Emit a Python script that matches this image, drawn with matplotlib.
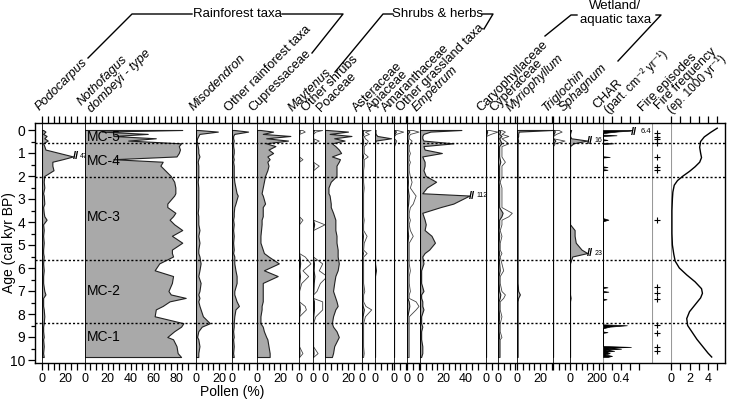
import numpy as np
import matplotlib
matplotlib.use('Agg')
import matplotlib.pyplot as plt

plt.rcParams['font.family'] = ['Liberation Sans', 'DejaVu Sans']

######################################## 数据
# 花粉样品年龄 (cal kyr BP)
ages = [0.00, 0.07, 0.17, 0.26, 0.36, 0.46, 0.58, 0.70, 0.85, 1.00,
        1.15, 1.27, 1.38, 1.55, 1.75, 2.00, 2.25, 2.50, 2.75, 2.85,
        3.20, 3.35, 3.60, 3.75, 3.90, 4.10, 4.35, 4.60, 4.90, 5.20,
        5.35, 5.50, 5.80, 6.10, 6.35, 6.65, 7.00, 7.15, 7.30, 7.45,
        7.65, 7.80, 8.10, 8.40, 8.55, 8.75, 9.00, 9.10, 9.40, 9.70,
        9.87]

podocarpus = [1, 3, 1, 4, 2, 5, 1, 2, 3, 15,
              47, 18, 9, 9, 10, 2, 1.5, 2, 1, 1.5,
              2, 1, 1.5, 2, 4, 1, 1.5, 1, 1.5, 1,
              1, 1.5, 1, 1.5, 1, 1, 2, 3, 1, 1,
              1, 1.5, 2, 1.5, 1, 1, 1.5, 1, 1.5, 1,
              1.5]
nothofagus = [85, 15, 55, 25, 62, 38, 84, 82, 83, 82,
              80, 25, 68, 66, 70, 75, 78, 79, 79, 78,
              72, 72, 79, 77, 74, 78, 85, 76, 85, 76,
              76, 77, 65, 61, 77, 76, 73, 75, 88, 74,
              68, 62, 61, 86, 84, 78, 72, 77, 80, 81,
              84]
misodendron = [2, 19, 3, 2, 1, 0.5, 1, 1.5, 2, 2,
               3, 2, 1.5, 2, 2, 2, 1.5, 2, 2, 2,
               2, 2, 1.5, 2, 2, 2, 3, 2, 3, 2,
               2, 3, 4, 3, 2, 4, 3, 2, 3, 2,
               3, 4, 6, 12, 5, 2, 1, 2, 3, 2,
               2]
other_rainforest = [2, 14, 2, 1, 1, 1.5, 1, 1, 1.5, 1.5,
                    1, 1.5, 1, 1.5, 1.5, 1.5, 2, 3, 4, 5,
                    3, 2, 1.5, 1.5, 1, 1.5, 1, 1.5, 1, 1.5,
                    1, 2, 2, 3, 4, 4, 2, 2, 3, 4,
                    6, 3, 2, 1.5, 1.5, 1, 1.5, 1, 1.5, 1,
                    1.5]
cupressaceae = [3, 14, 5, 29, 8, 27, 8, 16, 10, 14,
                9, 11, 9, 10, 9, 7, 6, 5, 4, 5,
                7, 5, 5, 5, 4, 4, 3.5, 3, 3, 5,
                6, 10, 19, 6, 18, 5, 5, 5, 5, 5,
                4, 4, 3, 3, 5, 6, 8, 9, 10, 11,
                11]
maytenus = [0.3, 0.5, 0, 0, 0, 0, 0, 0, 0, 0,
            0, 0.3, 0, 0, 0, 0, 0, 0, 0, 0,
            0, 0, 0, 0, 0.3, 0, 0, 0, 0, 0,
            0, 0.5, 1.0, 0.3, 0.8, 0.2, 0, 0, 0, 0,
            0.5, 0.6, 0, 0, 0, 0, 0, 0, 0, 0.3,
            0]
other_shrubs = [0.8, 0.2, 0, 0, 0, 0.5, 0, 0, 0, 0,
                0, 0, 0, 0.5, 0, 0, 0, 0, 0, 0,
                0, 0, 0, 0, 0, 1.0, 0, 0, 0, 0,
                0, 0, 0.8, 0.5, 1.2, 0.6, 0.3, 0, 0, 0.8,
                0.8, 0.8, 0.2, 0, 0, 0, 0, 0, 0, 0.4,
                0]
poaceae = [2, 20, 4, 23, 8, 17, 6, 9, 12, 14,
           6, 13, 12, 10, 10, 10, 5, 3, 3, 4,
           5, 5, 7, 8, 9, 9, 9, 10, 10, 11,
           11, 11, 12, 11, 9, 8, 7, 8, 9, 10,
           11, 9, 7, 6, 7, 10, 12, 11, 8, 7,
           6]
asteraceae = [1.5, 0.5, 1.2, 0.3, 0.5, 1, 0.8, 0.3, 0.3, 0.3,
              1, 0.3, 0.3, 0.3, 0.2, 0.2, 0.2, 0.3, 0.2, 0.2,
              0.2, 0.2, 0.2, 0.2, 0.3, 0.2, 0.2, 0.8, 0.3, 0.2,
              0.8, 0.2, 0.2, 0.2, 0.2, 0.2, 0.4, 0.2, 0.2, 0.2,
              0.6, 1.6, 0.5, 0.2, 0.2, 0.2, 0.2, 0.2, 0.2, 0.3,
              0.2]
apiaceae = [0.5, 0.3, 0.5, 2, 14, 0.5, 0, 0, 0, 0,
            0, 0, 0, 0, 0, 0, 0, 0, 0, 0,
            0, 0, 0, 0, 0, 0, 0, 0, 0, 0,
            0, 0, 0, 0.8, 0, 0, 0, 0, 0, 0,
            0, 0, 0, 0, 0, 0, 0, 0, 0, 0,
            0]
amaranthaceae = [0.5, 1.6, 0.3, 0, 0, 0.4, 0.2, 0, 0, 0,
                 0, 0, 0, 0, 0, 0, 0, 0, 0, 0,
                 0, 0, 0, 0, 0, 0, 0, 0, 0, 0,
                 0, 0, 0, 0, 0, 0, 0, 0, 0, 0,
                 0, 0, 0, 0, 0, 0, 0, 0, 0, 0,
                 0]
other_grassland = [1, 2, 0.5, 0.3, 0.3, 0.8, 0.5, 0.3, 0.3, 0.5,
                   0.3, 0.3, 0.5, 0.3, 0.3, 0.5, 0.8, 0.5, 1.2, 1.5,
                   1, 0.5, 0.3, 0.3, 0.5, 0.3, 0.5, 1.0, 0.3, 0.3,
                   0.3, 0.3, 0.3, 0.5, 0.3, 0.3, 0.5, 0.3, 0.3, 1.5,
                   2, 1.5, 0.3, 0.3, 0.3, 0.3, 0.3, 0.3, 0.3, 0.3,
                   0.3]
empetrum = [36, 9, 3, 2, 2, 3, 29, 3, 4, 19,
            2, 3, 4, 4, 3, 5, 14, 6, 2, 112,
            29, 18, 2, 3, 4, 5, 4, 10, 13, 8,
            4, 2, 3, 1, 1, 1, 3, 1, 1, 2,
            2, 3, 1, 1, 2, 1, 1, 1, 2, 2,
            1]
caryophyllaceae = [0.3, 1.0, 0.4, 0, 0, 0, 0, 0, 0, 0,
                   0, 0, 0, 0, 0, 0, 0, 0, 0, 0,
                   0, 0, 0, 0, 0, 0, 0, 0, 0, 0,
                   0, 0, 0, 0, 0, 0, 0, 0, 0, 0,
                   0, 0, 0, 0, 0, 0, 0, 0, 0, 0,
                   0]
cyperaceae = [1, 2, 1, 3, 1, 2, 3, 1, 1, 1,
              1, 1.5, 2, 1, 1, 1, 0.5, 1, 1, 1,
              1, 1, 4, 3, 1, 1, 0.5, 1, 0.5, 0.5,
              1, 0.5, 1, 1.5, 0.5, 0.5, 1, 2, 1.5, 0.5,
              0.5, 0.5, 1, 0.5, 0.5, 0.5, 1, 0.5, 0.5, 0.5,
              0.5]
myriophyllum = [31, 1.5, 1, 1, 0.5, 1, 0.5, 0.5, 0.5, 0.5,
                0.5, 0.5, 0.5, 0.5, 0.5, 0.5, 0.5, 0.5, 0.5, 0.5,
                0.5, 0.5, 0.5, 0.5, 0.5, 0.5, 0.5, 0.5, 0.5, 0.5,
                0.5, 0.5, 0.5, 0.5, 0.5, 0.5, 1, 2.5, 1, 0.5,
                0.5, 0.5, 0.5, 0.5, 0.5, 0.5, 0.5, 0.5, 0.5, 0.5,
                0.5]
triglochin = [1, 1.5, 0.5, 0, 0, 2, 0.3, 0, 0, 0,
              0, 0, 0, 0, 0, 0, 0, 0, 0, 0,
              0, 0, 0, 0, 0, 0, 0, 0, 0, 0,
              0, 0, 0, 0, 0, 0, 0, 0, 0, 0,
              0, 0, 0, 0, 0, 0, 0, 0, 0, 0,
              0]
sphagnum = [1, 0.5, 0, 0, 1, 16, 3, 0, 0, 0,
            0, 0, 0, 0, 0, 0, 0, 0, 0, 0,
            0, 0, 0, 0, 0, 0, 4, 4, 5, 10,
            23, 2, 0, 0, 0, 0, 0, 0, 0.5, 0,
            0, 0, 0, 0, 0, 0, 0, 0, 0, 0,
            0]

# 木炭累积速率 CHAR
char_age = [0.00, 0.03, 0.06, 0.10, 0.14, 0.20, 0.23, 0.26, 0.40, 0.43,
            0.46, 0.55, 0.58, 0.61, 1.14, 1.17, 1.20, 1.58, 1.61, 1.64,
            1.70, 1.73, 1.76, 3.83, 3.90, 3.97, 6.81, 6.84, 6.87, 7.00,
            7.03, 7.06, 7.33, 7.36, 7.39, 8.45, 8.49, 8.55, 8.62, 8.76,
            8.79, 8.82, 9.39, 9.43, 9.47, 9.51, 9.55, 9.60, 9.65, 9.70,
            9.76, 9.82, 9.87]
char_val = [6.4, 0.6, 0.35, 0.15, 0.0, 0.0, 0.3, 0.0, 0.0, 0.1,
            0.0, 0.0, 0.23, 0.0, 0.0, 0.15, 0.0, 0.0, 0.1, 0.0,
            0.0, 0.1, 0.0, 0.0, 0.12, 0.0, 0.0, 0.1, 0.0, 0.0,
            0.12, 0.0, 0.0, 0.08, 0.0, 0.0, 0.53, 0.15, 0.0, 0.0,
            0.1, 0.0, 0.0, 0.62, 0.1, 0.4, 0.05, 0.25, 0.05, 0.15,
            0.05, 0.2, 0.1]

# 火事件与火频率
fire_episodes = [0.13, 0.30, 0.40, 0.58, 1.19, 1.62, 1.76, 3.91,
                 6.81, 7.10, 7.36, 8.48, 8.81, 9.45, 9.59]
ff_age = [-0.08, 0.10, 0.30, 0.50, 0.75, 1.00, 1.20, 1.40, 1.60, 1.80,
          2.00, 2.20, 2.40, 2.70, 3.00, 3.50, 4.00, 4.50, 5.00, 5.40,
          5.70, 6.00, 6.30, 6.60, 6.90, 7.10, 7.30, 7.60, 7.90, 8.20,
          8.50, 8.80, 9.10, 9.40, 9.70, 9.87]
ff_val = [5.0, 4.3, 3.6, 3.2, 3.1, 3.2, 3.3, 3.1, 2.6, 2.0,
          1.3, 0.7, 0.35, 0.2, 0.15, 0.1, 0.1, 0.1, 0.15, 0.3,
          0.45, 0.9, 1.7, 2.6, 3.3, 3.4, 3.2, 2.6, 2.0, 1.7,
          1.8, 2.3, 2.8, 3.4, 4.0, 4.4]

# 分带
zone_bounds = [0.58, 2.03, 5.65, 8.38]
zone_names = ['MC-5', 'MC-4', 'MC-3', 'MC-2', 'MC-1']
zone_label_age = [0.3, 1.33, 3.8, 7.0, 9.0]

######################################## 版面
W, H = 742, 399
FL, FR, FT, FB = 35, 725, 123, 363
Y0, PX_KYR = 130, 23.0
ytop = (FT - Y0) / PX_KYR
ybot = (FB - Y0) / PX_KYR
PCT = 1.15
GREY = '#a9a9a9'

fig = plt.figure(figsize=(W / 100, H / 100), dpi=100)


def panel_axes(x0, scale, width=130):
    ax = fig.add_axes([x0 / W, (H - FB) / H, width / W, (FB - FT) / H])
    ax.set_xlim(0, width / scale)
    ax.set_ylim(ybot, ytop)
    ax.axis('off')
    return ax


# (数据, 零点像素, 刻度上限, 标注刻度, 夸大倍数, 截断值)
panels = [
    (podocarpus, 42, 30, [0, 20], None, 27),
    (nothofagus, 84.5, 90, [0, 20, 40, 60, 80], None, None),
    (misodendron, 196, 25, [0, 20], None, None),
    (other_rainforest, 232, 15, [0], None, None),
    (cupressaceae, 257, 30, [0, 20], None, None),
    (maytenus, 299, 5, [0], 10, None),
    (other_shrubs, 313, 5, [0], 10, None),
    (poaceae, 325, 25, [0, 20], None, None),
    (asteraceae, 362, 5, [0], 5, None),
    (apiaceae, 375, 15, [0], None, None),
    (amaranthaceae, 394, 10, [0], 5, None),
    (other_grassland, 407, 10, [0], 5, None),
    (empetrum, 420, 50, [0, 20, 40], None, 43),
    (caryophyllaceae, 486, 5, [0], 10, None),
    (cyperaceae, 498, 15, [0], 3, None),
    (myriophyllum, 517, 30, [0, 20], None, None),
    (triglochin, 553, 10, [], 5, None),
    (sphagnum, 570, 25, [0, 20], None, 15),
]

xticks, xlabels = [], []

# 花粉曲线
for vals, x0, tmax, tlab, exag, cap in panels:
    ax = panel_axes(x0, PCT)
    v = np.array(vals, dtype=float)
    if exag:
        ax.fill_betweenx(ages, 0, v * exag, facecolor='white', edgecolor='#444444', lw=0.6)
    show = np.minimum(v, cap) if cap else v
    ax.fill_betweenx(ages, 0, show, facecolor=GREY, edgecolor='#222222', lw=0.8)
    ax.axvline(0, color='k', lw=1.2)
    if cap:
        for i in np.where(v > cap)[0]:
            ax.text(cap - 0.5, ages[i], '//', ha='left', va='center', fontsize=8, fontweight='bold')
            ax.annotate(f'{v[i]:g}', (cap, ages[i]), xytext=(5, 0), textcoords='offset points',
                        fontsize=5, va='center')
    for t in range(0, tmax + 1, 5):
        xticks.append(x0 + t * PCT)
        xlabels.append(str(t) if t in tlab else '')

# CHAR
ax = panel_axes(603, 45)
ax.axvline(0, color='#999999', lw=1.5, zorder=1)
cv = np.minimum(char_val, 0.65)
ax.fill_betweenx(char_age, 0, cv, facecolor='k', edgecolor='k', lw=0.5, zorder=2)
ax.text(0.63, char_age[0] + 0.08, '//', ha='left', va='center', fontsize=8, fontweight='bold')
ax.annotate('6.4', (0.65, char_age[0] + 0.08), xytext=(6, 0), textcoords='offset points',
            fontsize=5.5, va='center')
for t in [0, 0.2, 0.4, 0.6, 0.8]:
    xticks.append(603 + t * 45)
    xlabels.append({0: '0', 0.4: '0.4'}.get(t, ''))

# 火事件
ax = panel_axes(652, 1.0)
ax.axvline(0, color='#999999', lw=1.5)
ax.plot(np.full(len(fire_episodes), 5), fire_episodes, '+', color='k', ms=5, mew=0.8)

# 火频率
ax = panel_axes(671, 9.25)
ax.axvline(0, color='#999999', lw=1.5)
ax.plot(ff_val, ff_age, color='k', lw=1.0)
for t in range(0, 6):
    xticks.append(671 + t * 9.25)
    xlabels.append(str(t) if t in (0, 2, 4) else '')

######################################## 外框与坐标轴
frame = fig.add_axes([FL / W, (H - FB) / H, (FR - FL) / W, (FB - FT) / H])
frame.patch.set_visible(False)
frame.set_xlim(FL, FR)
frame.set_ylim(ybot, ytop)
for s in frame.spines.values():
    s.set_linewidth(1.0)
frame.set_xticks(xticks, xlabels)
frame.tick_params(axis='x', top=True, direction='out', length=5, width=0.9, labelsize=9, pad=2)
frame.set_yticks(range(11))
frame.set_yticks(np.arange(0.5, 10, 1), minor=True)
frame.tick_params(axis='y', which='major', length=5, width=0.9, labelsize=10, pad=2)
frame.tick_params(axis='y', which='minor', length=3, width=0.9)

for a in zone_bounds:
    frame.axhline(a, color='k', lw=1.0, ls=(0, (1.5, 1.5)))
for name, a in zip(zone_names, zone_label_age):
    frame.text(87, a, name, ha='left', va='center', fontsize=10)

######################################## 表头
ov = fig.add_axes([0, 0, 1, 1])
ov.set_xlim(0, W)
ov.set_ylim(H, 0)
ov.axis('off')

header = [
    ('Podocarpus', 39, 111, True, 9.2),
    ('Nothofagus', 81, 106, True, 9.2),
    ('dombeyi - type', 92, 113, True, 9.2),
    ('Misodendron', 194, 111, True, 9.2),
    ('Other rainforest taxa', 229, 112, False, 9.2),
    ('Cupressaceae', 253, 112, False, 9.2),
    ('Maytenus', 292, 112, True, 9.2),
    ('Other shrubs', 306, 112, False, 9.2),
    ('Poaceae', 321, 112, False, 9.2),
    ('Asteraceae', 357, 112, False, 9.2),
    ('Apiaceae', 371, 112, False, 9.2),
    ('Amaranthaceae', 386, 112, False, 9.2),
    ('Other grassland taxa', 401, 112, False, 9.2),
    ('Empetrum', 416, 112, True, 9.2),
    ('Caryophyllaceae', 481, 112, False, 9.2),
    ('Cyperaceae', 494, 112, False, 9.2),
    ('Myriophyllum', 510, 112, True, 9.2),
    ('Triglochin', 547, 112, True, 9.2),
    ('Sphagnum', 564, 112, True, 9.2),
    ('CHAR', 597, 109, False, 9.2),
    ('(part. cm⁻² yr⁻¹)', 609, 114, False, 8.5),
    ('Fire episodes', 643, 112, False, 9.2),
    ('Fire frequency', 659, 110, False, 9.2),
    ('(ep. 1000 yr⁻¹)', 672, 114, False, 8.5),
]
for txt, x, y, it, fs in header:
    ov.text(x, y, txt, rotation=45, rotation_mode='anchor', ha='left', va='baseline',
            fontsize=fs, style='italic' if it else 'normal')

# 分组括线
brackets = [
    [(88, 58), (132, 14), (192, 14)],
    [(282, 14), (343, 14), (312, 53)],
    [(335, 72), (383, 14), (393, 14)],
    [(482, 14), (493, 14), (484, 29)],
    [(545, 36), (571, 15), (577, 15)],
    [(656, 15), (661, 15), (618, 61)],
]
for b in brackets:
    xs, ys = zip(*b)
    ov.plot(xs, ys, color='k', lw=1.0)
ov.text(237, 14, 'Rainforest taxa', ha='center', va='center', fontsize=9.5)
ov.text(438, 14, 'Shrubs & herbs', ha='center', va='center', fontsize=9.5)
ov.text(615, 6, 'Wetland/', ha='center', va='center', fontsize=9.5)
ov.text(616, 20, 'aquatic taxa', ha='center', va='center', fontsize=9.5)

ov.text(232, 392, 'Pollen (%)', ha='center', va='center', fontsize=10)
ov.text(9, 243, 'Age (cal kyr BP)', rotation=90, ha='center', va='center', fontsize=10)

fig.savefig('out.png', dpi=100)
